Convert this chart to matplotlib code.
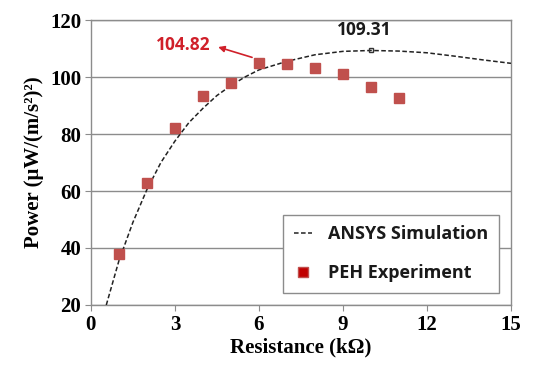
import matplotlib
matplotlib.use('Agg')
import matplotlib.pyplot as plt

# PEH experiment (measured)
exp_r = [1, 2, 3, 4, 5, 6, 7, 8, 9, 10, 11]
exp_p = [37.8, 62.7, 82.0, 93.2, 97.8, 104.82, 104.5, 103.3, 101.0, 96.6, 92.6]

# ANSYS simulation curve
sim_r = [0.55, 1, 1.5, 2, 2.5, 3, 3.5, 4, 4.5, 5, 5.5, 6, 7, 8, 9, 10, 11, 12, 13, 14, 15]
sim_p = [20.0, 35.5, 49.0, 60.5, 70.0, 77.5, 84.0, 89.0, 93.5, 97.0, 100.0, 102.5,
         105.5, 107.8, 109.0, 109.31, 109.1, 108.5, 107.3, 106.0, 104.8]

x_ticks = [0, 3, 6, 9, 12, 15]
y_ticks = [20, 40, 60, 80, 100, 120]

serif = 'Liberation Serif'
sans = 'Open Sans'

fig = plt.figure(figsize=(5.41, 3.74), dpi=100)
ax = fig.add_axes([0.168, 0.1845, 0.7765, 0.762])

ax.plot(sim_r, sim_p, color='#222222', lw=1.1, ls=(0, (3, 1.6)), label='ANSYS Simulation', zorder=3)
ax.plot(exp_r, exp_p, ls='none', marker='s', ms=7.5, color='#C0504D', mec='#C0504D',
        label='PEH Experiment', zorder=4)

# peak of the simulation
ax.plot([10], [109.31], marker='s', ms=3, mfc='none', mec='#333333', mew=1, zorder=5)
ax.text(9.75, 113.3, '109.31', ha='center', va='bottom', fontsize=12.5, family=sans,
        fontweight='bold', color='#1a1a1a')

# max of experiment
ax.text(3.3, 111.2, '104.82', ha='center', va='center',
        fontsize=12.5, family=sans, color='#D0202A', fontweight='bold')
ax.annotate('', xy=(4.45, 110.8), xytext=(5.85, 106.6),
            arrowprops=dict(arrowstyle='-|>', color='#D0202A', lw=1.2, mutation_scale=9))

ax.set_xlim(0, 15)
ax.set_ylim(20, 120)
ax.set_xticks(x_ticks)
ax.set_yticks(y_ticks)
ax.grid(axis='y', color='#8c8c8c', lw=1)
ax.set_axisbelow(True)
for s in ax.spines.values():
    s.set_color('#8c8c8c')
    s.set_linewidth(1)
ax.tick_params(axis='both', direction='out', length=4, color='#8c8c8c', pad=3)
for lab in ax.get_xticklabels() + ax.get_yticklabels():
    lab.set_fontfamily(serif)
    lab.set_fontweight('bold')
    lab.set_fontsize(15)

ax.set_xlabel('Resistance (k\u03a9)', fontsize=15, fontweight='bold', family=serif, labelpad=2)
ax.set_ylabel('Power (\u03bcW/(m/s\u00b2)\u00b2)', fontsize=15, fontweight='bold', family=serif, labelpad=4)

leg = ax.legend(loc='lower right', bbox_to_anchor=(0.972, 0.042), fancybox=False, framealpha=1,
                edgecolor='#8c8c8c', prop={'family': sans, 'size': 13, 'weight': 'bold'},
                handlelength=1.0, borderpad=0.6, labelspacing=1.15, handletextpad=0.9,
                borderaxespad=0)
leg.get_frame().set_linewidth(1)
for t in leg.get_texts():
    t.set_color('#1a1a1a')
h = leg.legend_handles[1]
h.set_color('#C00000')
h.set_markersize(6.5)

fig.savefig('out.png', dpi=100)
